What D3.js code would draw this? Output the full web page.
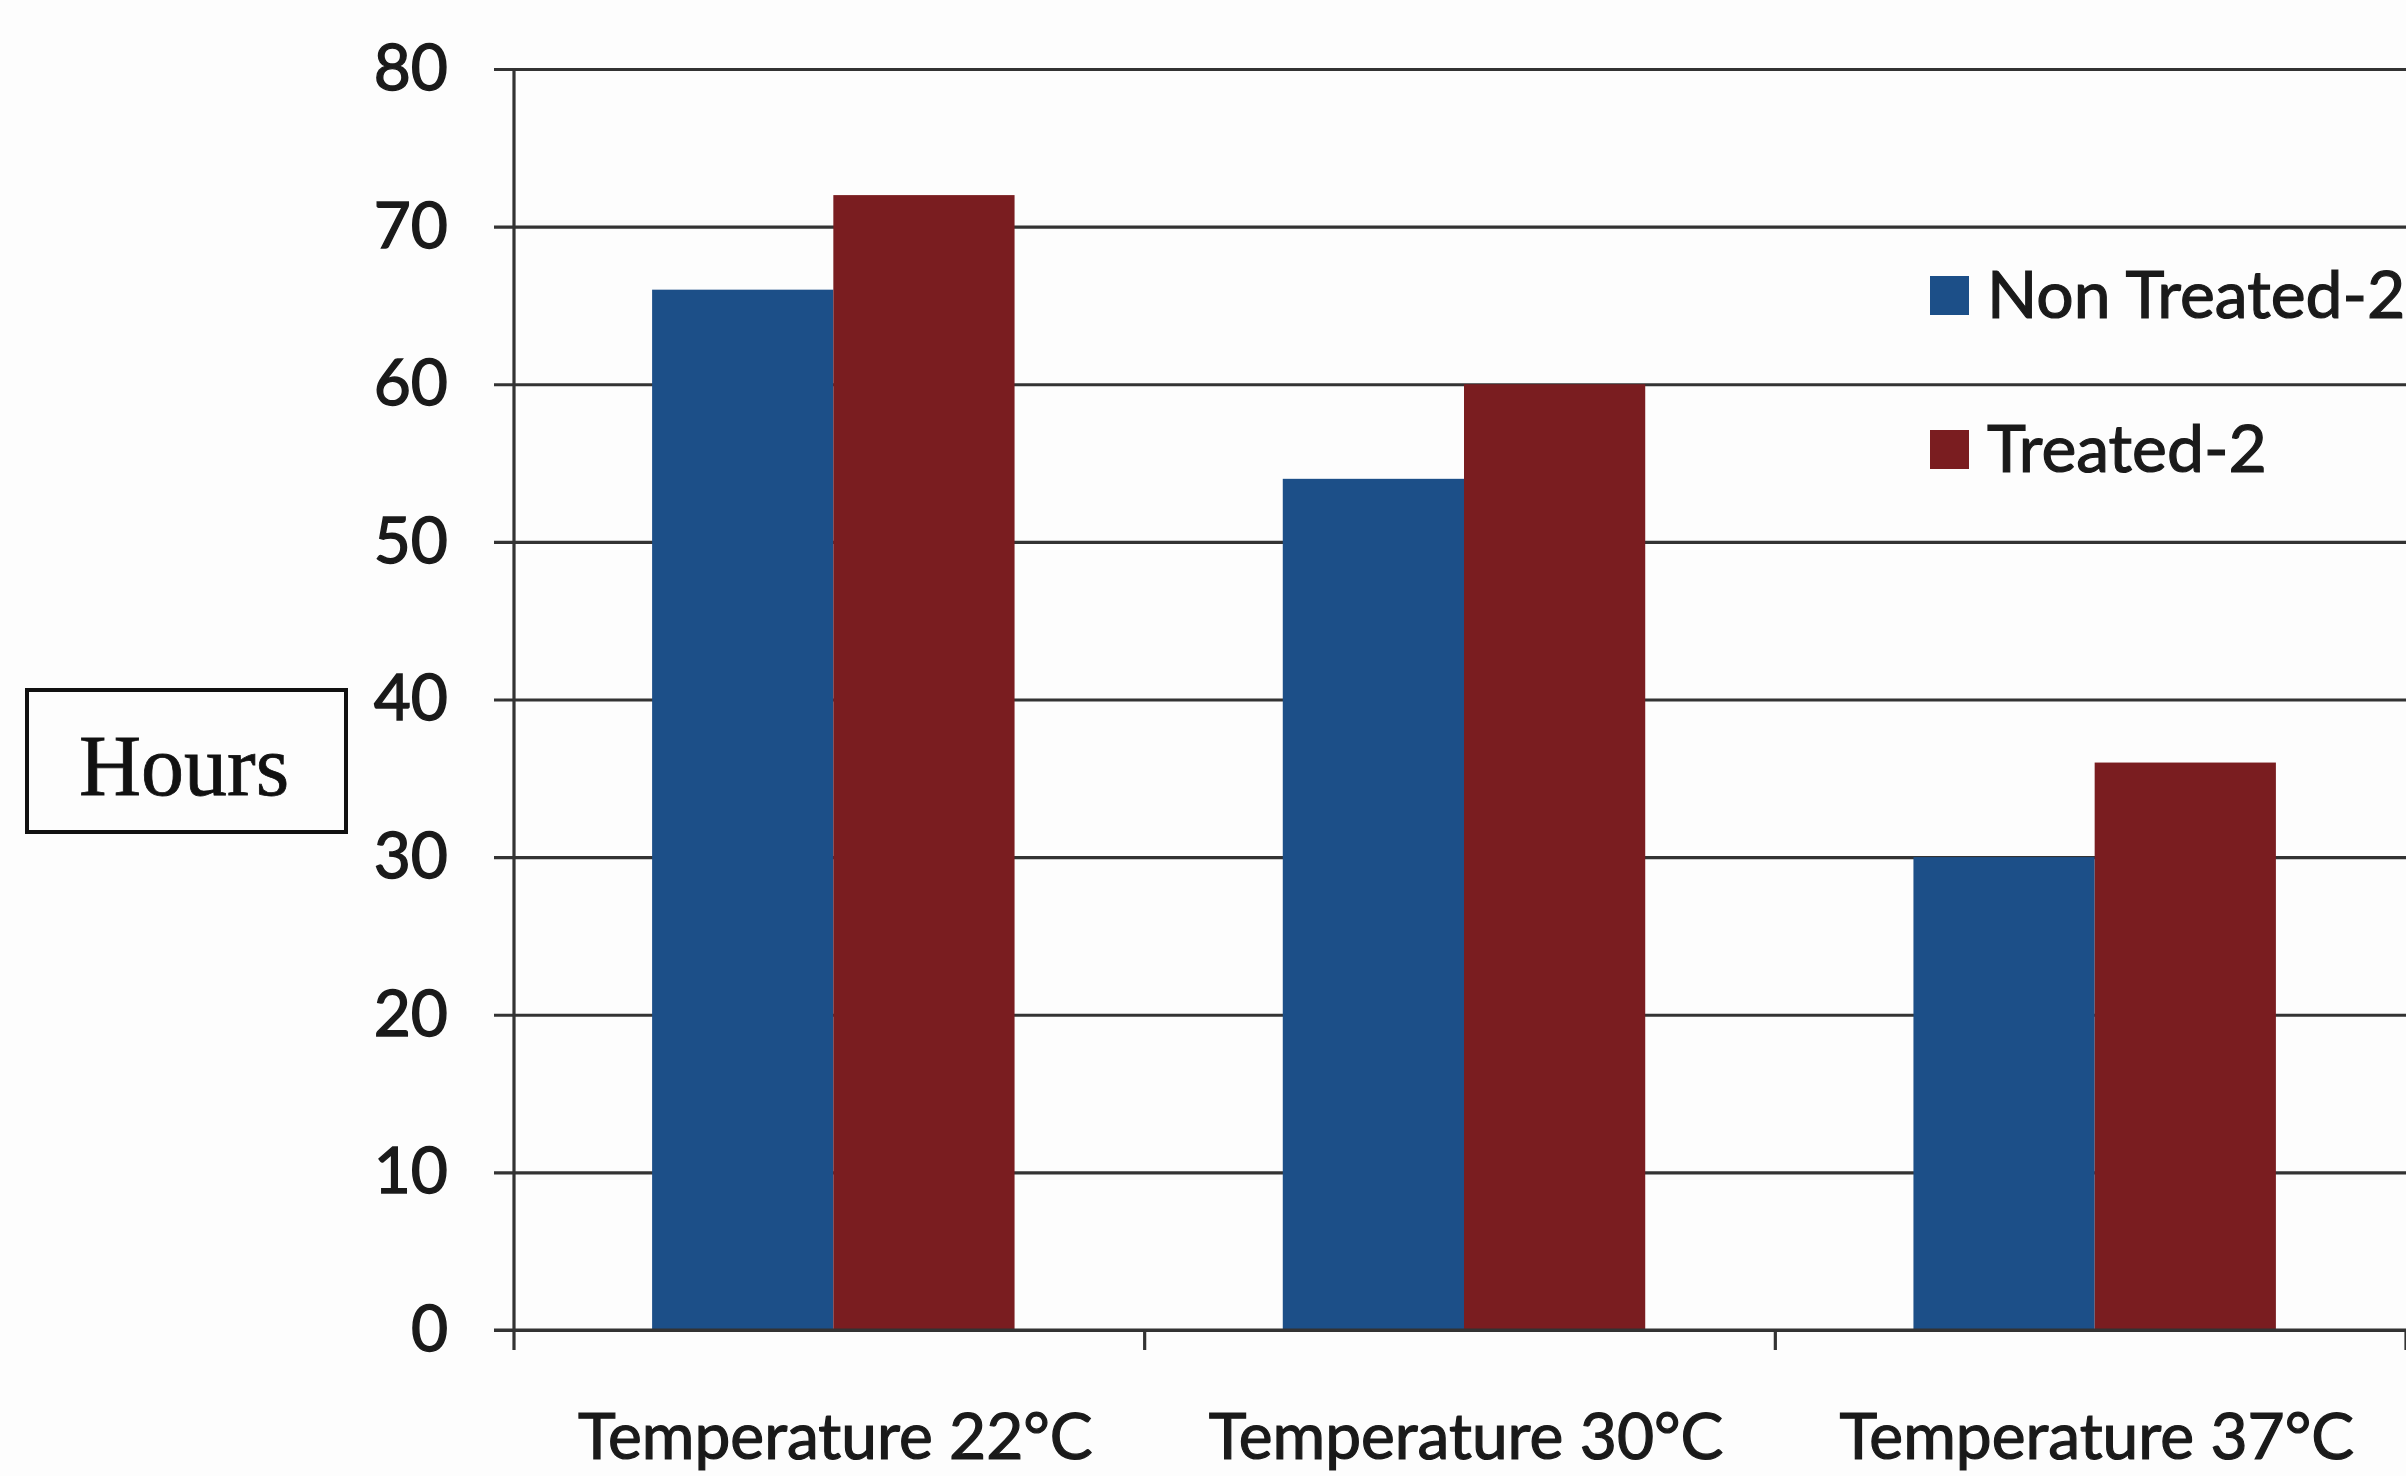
<!DOCTYPE html>
<html>
<head>
<meta charset="utf-8">
<script src="https://cdn.jsdelivr.net/npm/d3@7"></script>
<style>
  html, body { margin: 0; padding: 0; background: #fdfdfd; }
  svg { display: block; }
</style>
</head>
<body>
<svg id="chart" width="2406" height="1476"></svg>
<script>
// Hours per temperature, grouped by treatment
const categories = ["Temperature 22°C", "Temperature 30°C", "Temperature 37°C"];
const seriesNames = ["Non Treated-2", "Treated-2"];
const nonTreated = [66, 54, 30];
const treated = [72, 60, 36];
const yTicks = [0, 10, 20, 30, 40, 50, 60, 70, 80];

const colors = { "Non Treated-2": "#1c4f88", "Treated-2": "#7a1d20" };
const values = { "Non Treated-2": nonTreated, "Treated-2": treated };

const W = 2406, H = 1476;
const plotLeft = 514, plotRight = 2406, plotTop = 69, plotBottom = 1330;
const ink = "#1a1a1a";
const gridInk = "#333333";
const sans = "Lato, 'Open Sans', sans-serif";

const svg = d3.select("#chart");
svg.append("rect").attr("width", W).attr("height", H).attr("fill", "#fdfdfd");

const plot = svg.append("g");

const x = d3.scaleBand().domain(categories).range([plotLeft, plotRight]).paddingInner(0).paddingOuter(0);
const xs = d3.scaleBand().domain(seriesNames).range([0, x.bandwidth()]).paddingInner(0).paddingOuter(0.74);
const y = d3.scaleLinear().domain([0, 80]).range([plotBottom, plotTop]);

// Gridlines + y tick labels: axis anchored on the right edge, ticks running left past the axis line
const yAxis = d3.axisLeft(y)
  .tickValues(yTicks)
  .tickSize(plotRight - (plotLeft - 20))
  .tickPadding(46)
  .tickFormat(d3.format("d"));
const gy = plot.append("g").attr("transform", `translate(${plotRight},0)`).call(yAxis);
gy.select(".domain").remove();
gy.selectAll(".tick line").attr("stroke", gridInk).attr("stroke-width", 3.2);
gy.selectAll(".tick text")
  .attr("fill", ink)
  .attr("font-family", sans)
  .attr("font-size", 64)
  .attr("stroke", ink).attr("stroke-width", 1.4);

// Bars
const rows = categories.map((c, i) => ({ cat: c, items: seriesNames.map(s => ({ s, v: values[s][i] })) }));
plot.append("g").selectAll("g")
  .data(rows)
  .join("g")
  .attr("transform", d => `translate(${x(d.cat) + 4},0)`)
  .selectAll("rect")
  .data(d => d.items)
  .join("rect")
  .attr("x", d => xs(d.s))
  .attr("width", xs.bandwidth())
  .attr("y", d => y(d.v))
  .attr("height", d => y(0) - y(d.v))
  .attr("fill", d => colors[d.s]);

// Baseline and vertical axis line
plot.append("line")
  .attr("x1", plotLeft - 20).attr("x2", plotRight)
  .attr("y1", y(0)).attr("y2", y(0))
  .attr("stroke", gridInk).attr("stroke-width", 3.2);
plot.append("line")
  .attr("x1", plotLeft).attr("x2", plotLeft)
  .attr("y1", y(80)).attr("y2", y(0) + 20)
  .attr("stroke", gridInk).attr("stroke-width", 3.2);

// Category boundary ticks below the baseline
plot.append("g").selectAll("line")
  .data(categories)
  .join("line")
  .attr("x1", d => x(d) + x.bandwidth())
  .attr("x2", d => x(d) + x.bandwidth())
  .attr("y1", y(0)).attr("y2", y(0) + 20)
  .attr("stroke", gridInk).attr("stroke-width", 3.2);

// Category labels
const xAxis = d3.axisBottom(x).tickSize(0).tickPadding(0);
const gx = plot.append("g").attr("transform", `translate(0,${plotBottom})`).call(xAxis);
gx.select(".domain").remove();
gx.selectAll(".tick text")
  .attr("x", 6)
  .attr("y", 129).attr("dy", 0)
  .attr("fill", ink)
  .attr("font-family", sans)
  .attr("font-size", 64)
  .attr("stroke", ink).attr("stroke-width", 1.2);

// Legend
const legend = svg.append("g").attr("transform", "translate(1930,0)");
const legendY = [276, 430];
seriesNames.forEach((s, i) => {
  legend.append("rect")
    .attr("x", 0).attr("y", legendY[i])
    .attr("width", 39).attr("height", 39)
    .attr("fill", colors[s]);
  legend.append("text")
    .attr("x", 57).attr("y", legendY[i] + 42)
    .attr("fill", ink)
    .attr("font-family", sans)
    .attr("font-size", 66)
    .attr("stroke", ink).attr("stroke-width", 1.2)
    .text(s);
});

// Boxed axis title
const box = svg.append("g");
box.append("rect")
  .attr("x", 27).attr("y", 690)
  .attr("width", 319).attr("height", 142)
  .attr("fill", "none").attr("stroke", "#111").attr("stroke-width", 4);
box.append("text")
  .attr("x", 184).attr("y", 795)
  .attr("text-anchor", "middle")
  .attr("fill", "#111")
  .attr("font-family", "'Liberation Serif', 'Times New Roman', serif")
  .attr("font-size", 86)
  .attr("stroke", "#111").attr("stroke-width", 0.8)
  .text("Hours");
</script>
</body>
</html>
